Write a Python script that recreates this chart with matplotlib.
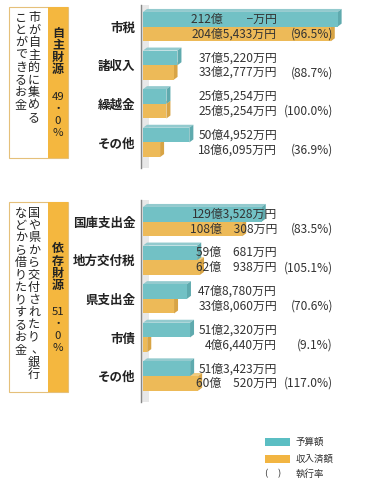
import matplotlib
matplotlib.use('Agg')
import matplotlib.pyplot as plt
from matplotlib.patches import Polygon, Rectangle
from matplotlib.transforms import blended_transform_factory
import numpy as np

plt.rcParams['font.family'] = ['Noto Sans CJK JP', 'DejaVu Sans']

# 自主財源
own_cats = ['市税', '諸収入', '繰越金', 'その他']
own_budget = [212.0, 37.522, 25.5254, 50.4952]        # 億円
own_actual = [204.5433, 33.2777, 25.5254, 18.6095]
own_budget_lbl = ['212億　　−万円', '37億5,220万円', '25億5,254万円', '50億4,952万円']
own_actual_lbl = ['204億5,433万円', '33億2,777万円', '25億5,254万円', '18億6,095万円']
own_rate = ['(96.5%)', '(88.7%)', '(100.0%)', '(36.9%)']

# 依存財源
dep_cats = ['国庫支出金', '地方交付税', '県支出金', '市債', 'その他']
dep_budget = [129.3528, 59.0681, 47.878, 51.232, 51.3423]
dep_actual = [108.0308, 62.0938, 33.806, 4.644, 60.052]
dep_budget_lbl = ['129億3,528万円', '59億　681万円', '47億8,780万円', '51億2,320万円', '51億3,423万円']
dep_actual_lbl = ['108億　308万円', '62億　938万円', '33億8,060万円', '4億6,440万円', '60億　520万円']
dep_rate = ['(83.5%)', '(105.1%)', '(70.6%)', '(9.1%)', '(117.0%)']

TEAL = '#72C1C5'
TEAL_TOP = '#93CACE'
TEAL_SIDE = '#5FAAAE'
ORANGE = '#EDBA58'
ORANGE_TOP = '#F2CB80'
ORANGE_SIDE = '#D8A445'
TXT = '#333333'

W, H = 365, 493
fig = plt.figure(figsize=(W / 100, H / 100), dpi=100)

PX_PER_UNIT = 0.918   # px per 億円
SPACING = 38.6        # px per category
DX = 4 / PX_PER_UNIT
DY = 3 / SPACING
BH = 0.38
NUM_FS = 8.6


def bar3d(ax, y0, y1, v, front, top, side):
    ax.add_patch(Polygon([(0, y0), (v, y0), (v + DX, y0 - DY), (DX, y0 - DY)],
                         closed=True, fc=top, ec='none', zorder=2))
    ax.add_patch(Polygon([(v, y0), (v + DX, y0 - DY), (v + DX, y1 - DY), (v, y1)],
                         closed=True, fc=side, ec='none', zorder=2))
    ax.add_patch(Rectangle((0, y0), v, y1 - y0, fc=front, ec='none', zorder=2))


def panel(top_px, bot_px, cats, budget, actual, blbl, albl, rates):
    ax = fig.add_axes([141 / W, 1 - bot_px / H, (W - 141) / W, (bot_px - top_px) / H])
    n = len(cats)
    first = -(0.56)
    ax.set_ylim(first + (bot_px - top_px) / SPACING, first)
    ax.set_xlim(-2 / PX_PER_UNIT, (W - 143) / PX_PER_UNIT)
    ax.axvspan(-1 / PX_PER_UNIT, 5.5 / PX_PER_UNIT, color='#E8E8E8', zorder=0, lw=0)
    y = np.arange(n)
    for i in range(n):
        bar3d(ax, y[i], y[i] + BH, actual[i], ORANGE, ORANGE_TOP, ORANGE_SIDE)
        bar3d(ax, y[i] - BH, y[i], budget[i], TEAL, TEAL_TOP, TEAL_SIDE)
    tr = blended_transform_factory(fig.transFigure, ax.transData)
    for i in range(n):
        ax.text(277 / W, y[i] - BH / 2, blbl[i], transform=tr, ha='right', va='center',
                fontsize=NUM_FS, color=TXT, zorder=5)
        ax.text(277 / W, y[i] + BH / 2, albl[i], transform=tr, ha='right', va='center',
                fontsize=NUM_FS, color=TXT, zorder=5)
        ax.text(333 / W, y[i] + BH / 2, rates[i], transform=tr, ha='right', va='center',
                fontsize=NUM_FS, color=TXT, zorder=5)
    ax.set_yticks(y)
    ax.set_yticklabels(cats, fontsize=9, fontweight='bold', color='#222222')
    ax.tick_params(axis='y', length=0, pad=4)
    ax.set_xticks([])
    for s in ['top', 'right', 'bottom']:
        ax.spines[s].set_visible(False)
    ax.spines['left'].set_color('#888888')
    ax.spines['left'].set_linewidth(1.0)
    ax.patch.set_alpha(0)
    return ax


panel(5, 168, own_cats, own_budget, own_actual, own_budget_lbl, own_actual_lbl, own_rate)
panel(200, 402, dep_cats, dep_budget, dep_actual, dep_budget_lbl, dep_actual_lbl, dep_rate)


def fx(px):
    return px / W


def fy(py):
    return 1 - py / H


def vchar(x, y, ch, **kw):
    # vertical writing: nudge the comma to the right side of its cell
    if ch == '、':
        x = x + 3
    fig.text(fx(x), fy(y), ch, ha='center', va='center', **kw)


def side_box(top, bot, col_right, col_left, title, pct_parts, title_top, pct_ys):
    fig.patches.append(Rectangle((fx(9), fy(bot)), fx(59), (bot - top) / H,
                                 transform=fig.transFigure, fc='white', ec='#E5C07A', lw=0.8))
    fig.patches.append(Rectangle((fx(48), fy(bot)), fx(20), (bot - top) / H,
                                 transform=fig.transFigure, fc='#F4B73F', ec='none'))
    step = 12.4
    for i, ch in enumerate(col_right):
        vchar(34, top + 11 + i * step, ch, fontsize=8.7, color='#222222')
    for i, ch in enumerate(col_left):
        vchar(21, top + 11 + i * step, ch, fontsize=8.7, color='#222222')
    for i, ch in enumerate(title):
        vchar(58, title_top + i * 12, ch, fontsize=8.7, fontweight='bold', color='#222222')
    for part, py in zip(pct_parts, pct_ys):
        vchar(58, py, part, fontsize=8.2, color='#222222')


side_box(7, 158, '市が自主的に集める', 'ことができるお金', '自主財源',
         ['49', '・', '0', '%'], 33, [97, 109, 121, 133])
side_box(202, 392, '国や県から交付されたり、銀行', 'などから借りたりするお金', '依存財源',
         ['51', '・', '0', '%'], 249, [312, 324, 336, 348])

# legend
fig.patches.append(Rectangle((fx(265), fy(446)), fx(25), 8 / H, transform=fig.transFigure,
                             fc='#5BBEC3', ec='none'))
fig.patches.append(Rectangle((fx(265), fy(463)), fx(25), 8 / H, transform=fig.transFigure,
                             fc='#F2B542', ec='none'))
fig.text(fx(296), fy(442), '予算額', va='center', fontsize=6.8, color=TXT)
fig.text(fx(296), fy(459), '収入済額', va='center', fontsize=6.8, color=TXT)
fig.text(fx(266), fy(474), '(', va='center', ha='center', fontsize=6.8, color=TXT)
fig.text(fx(279), fy(474), ')', va='center', ha='center', fontsize=6.8, color=TXT)
fig.text(fx(296), fy(474), '執行率', va='center', fontsize=6.8, color=TXT)

fig.savefig('out.png', dpi=100)
